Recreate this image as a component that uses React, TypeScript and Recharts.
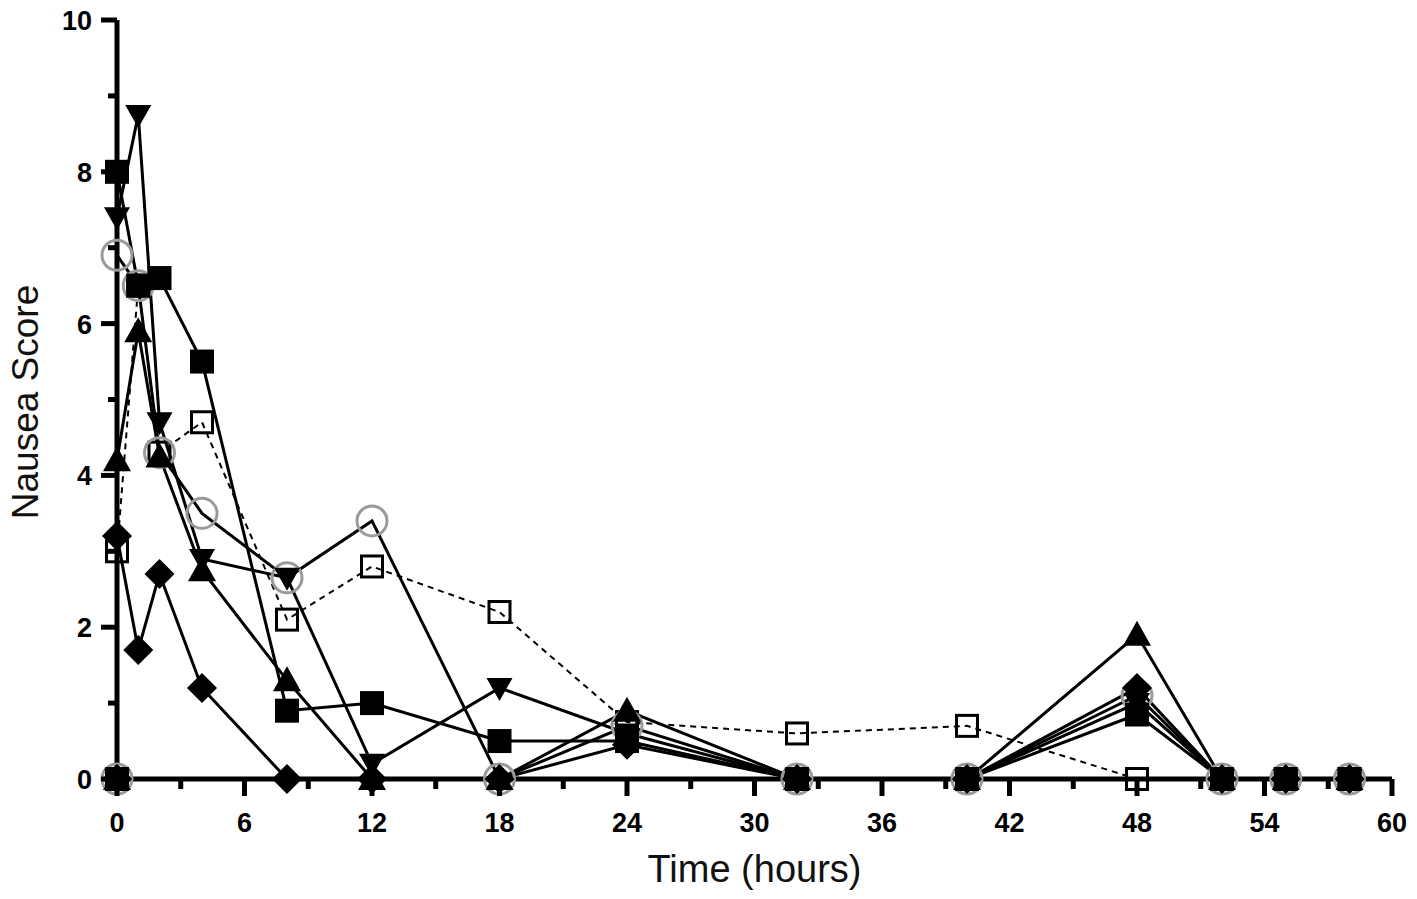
import React from 'react';
import { LineChart, Line, XAxis, YAxis } from 'recharts';

// Time points (hours); 0 appears twice: pre-dose baseline and first post-dose score
const timePoints = [0, 0, 1, 2, 4, 8, 12, 18, 24, 32, 40, 48, 52, 55, 58];

const filledSquare = [0, 8.0, 6.5, 6.6, 5.5, 0.9, 1.0, 0.5, 0.5, 0, 0, 0.85, 0, 0, 0];
const invTriangle = [0, 7.4, 8.75, 4.7, 2.9, 2.65, 0.2, 1.2, 0.6, 0, 0, 1.0, 0, 0, 0];
const triangle = [0, 4.2, 5.9, 4.25, 2.75, 1.3, 0, 0, 0.9, 0, 0, 1.9, 0, 0, 0];
const diamond = [0, 3.2, 1.7, 2.7, 1.2, 0, 0, 0, 0.45, 0, 0, 1.2, 0, 0, 0];
const grayCircle = [0, 6.9, 6.5, 4.3, 3.5, 2.65, 3.4, 0, 0.7, 0, 0, 1.1, 0, 0, 0];
const openSquare = [0, 3.0, 6.5, 4.3, 4.7, 2.1, 2.8, 2.2, 0.75, 0.6, 0.7, 0, 0, 0, 0];

const xTicks = [0, 3, 6, 9, 12, 15, 18, 21, 24, 27, 30, 33, 36, 39, 42, 45, 48, 51, 54, 57, 60];
const yTicks = [0, 1, 2, 3, 4, 5, 6, 7, 8, 9, 10];

const toRows = (vals: number[]) => timePoints.map((t, i) => ({ t, v: vals[i] }));

const FONT = '"Liberation Sans", Arial, Helvetica, sans-serif';

type Kind = 'square' | 'down' | 'up' | 'diamond' | 'circle' | 'open';

const makeDot = (kind: Kind, name: string) => (p: any) => {
  const { cx, cy, index } = p;
  const key = `${name}-${index}`;
  if (cx == null || cy == null) return <g key={key} />;
  switch (kind) {
    case 'square':
      return <rect key={key} x={cx - 12} y={cy - 12} width={24} height={24} fill="#000" />;
    case 'down':
      return (
        <polygon
          key={key}
          points={`${cx - 13},${cy - 10} ${cx + 13},${cy - 10} ${cx},${cy + 13}`}
          fill="#000"
        />
      );
    case 'up':
      return (
        <polygon
          key={key}
          points={`${cx - 14},${cy + 11} ${cx + 14},${cy + 11} ${cx},${cy - 14}`}
          fill="#000"
        />
      );
    case 'diamond':
      return (
        <polygon
          key={key}
          points={`${cx},${cy - 15} ${cx + 15},${cy} ${cx},${cy + 15} ${cx - 15},${cy}`}
          fill="#000"
        />
      );
    case 'circle':
      return <circle key={key} cx={cx} cy={cy} r={15} fill="none" stroke="#9a9a9a" strokeWidth={3} />;
    case 'open':
    default:
      return (
        <rect
          key={key}
          x={cx - 10.5}
          y={cy - 10.5}
          width={21}
          height={21}
          fill="none"
          stroke="#000"
          strokeWidth={3}
        />
      );
  }
};

const XTick = (props: any) => {
  const { x, y, payload } = props;
  const major = payload.value % 6 === 0;
  return (
    <g>
      <line x1={x} y1={y} x2={x} y2={y + (major ? 17 : 10)} stroke="#000" strokeWidth={5} />
      {major && (
        <text
          x={x}
          y={y + 53}
          textAnchor="middle"
          fontSize={27}
          fontWeight="bold"
          fontFamily={FONT}
          fill="#000"
        >
          {payload.value}
        </text>
      )}
    </g>
  );
};

const YTick = (props: any) => {
  const { x, y, payload } = props;
  const major = payload.value % 2 === 0;
  return (
    <g>
      <line x1={x} y1={y} x2={x - (major ? 16 : 9)} y2={y} stroke="#000" strokeWidth={5} />
      {major && (
        <text
          x={x - 25}
          y={y + 10}
          textAnchor="end"
          fontSize={27}
          fontWeight="bold"
          fontFamily={FONT}
          fill="#000"
        >
          {payload.value}
        </text>
      )}
    </g>
  );
};

const XLabel = (props: any) => {
  const vb = props.viewBox || { x: 117, y: 779, width: 1275 };
  return (
    <text
      x={vb.x + vb.width / 2}
      y={vb.y + 103}
      textAnchor="middle"
      fontSize={38}
      fontFamily={FONT}
      fill="#111"
    >
      Time (hours)
    </text>
  );
};

const YLabel = () => (
  <text
    x={38}
    y={402}
    transform="rotate(-90 38 402)"
    textAnchor="middle"
    fontSize={37}
    fontFamily={FONT}
    fill="#111"
  >
    Nausea Score
  </text>
);

const series: { vals: number[]; kind: Kind; name: string; dashed?: boolean }[] = [
  { vals: openSquare, kind: 'open', name: 'openSquare', dashed: true },
  { vals: grayCircle, kind: 'circle', name: 'grayCircle' },
  { vals: filledSquare, kind: 'square', name: 'filledSquare' },
  { vals: diamond, kind: 'diamond', name: 'diamond' },
  { vals: invTriangle, kind: 'down', name: 'invTriangle' },
  { vals: triangle, kind: 'up', name: 'triangle' },
];

export default function App() {
  return (
    <div style={{ position: 'absolute', left: 0, top: 0, width: 1417, height: 899 }}>
      <LineChart width={1417} height={899} margin={{ top: 20, right: 25, bottom: 0, left: 0 }}>
        <XAxis
          dataKey="t"
          type="number"
          domain={[0, 60]}
          ticks={xTicks}
          interval={0}
          height={120}
          tickSize={0}
          tickMargin={0}
          tickLine={false}
          tick={<XTick />}
          axisLine={{ stroke: '#000', strokeWidth: 5 }}
          label={<XLabel />}
          allowDuplicatedCategory
        />
        <YAxis
          type="number"
          domain={[0, 10]}
          ticks={yTicks}
          interval={0}
          width={117}
          tickSize={0}
          tickMargin={0}
          tickLine={false}
          tick={<YTick />}
          axisLine={{ stroke: '#000', strokeWidth: 5 }}
          label={<YLabel />}
        />
        {series.map((s) => (
          <Line
            key={s.name}
            data={toRows(s.vals)}
            dataKey="v"
            type="linear"
            stroke="#000"
            strokeWidth={s.dashed ? 2 : 3}
            strokeDasharray={s.dashed ? '6 5' : undefined}
            dot={makeDot(s.kind, s.name)}
            activeDot={false}
            isAnimationActive={false}
            legendType="none"
          />
        ))}
      </LineChart>
    </div>
  );
}
